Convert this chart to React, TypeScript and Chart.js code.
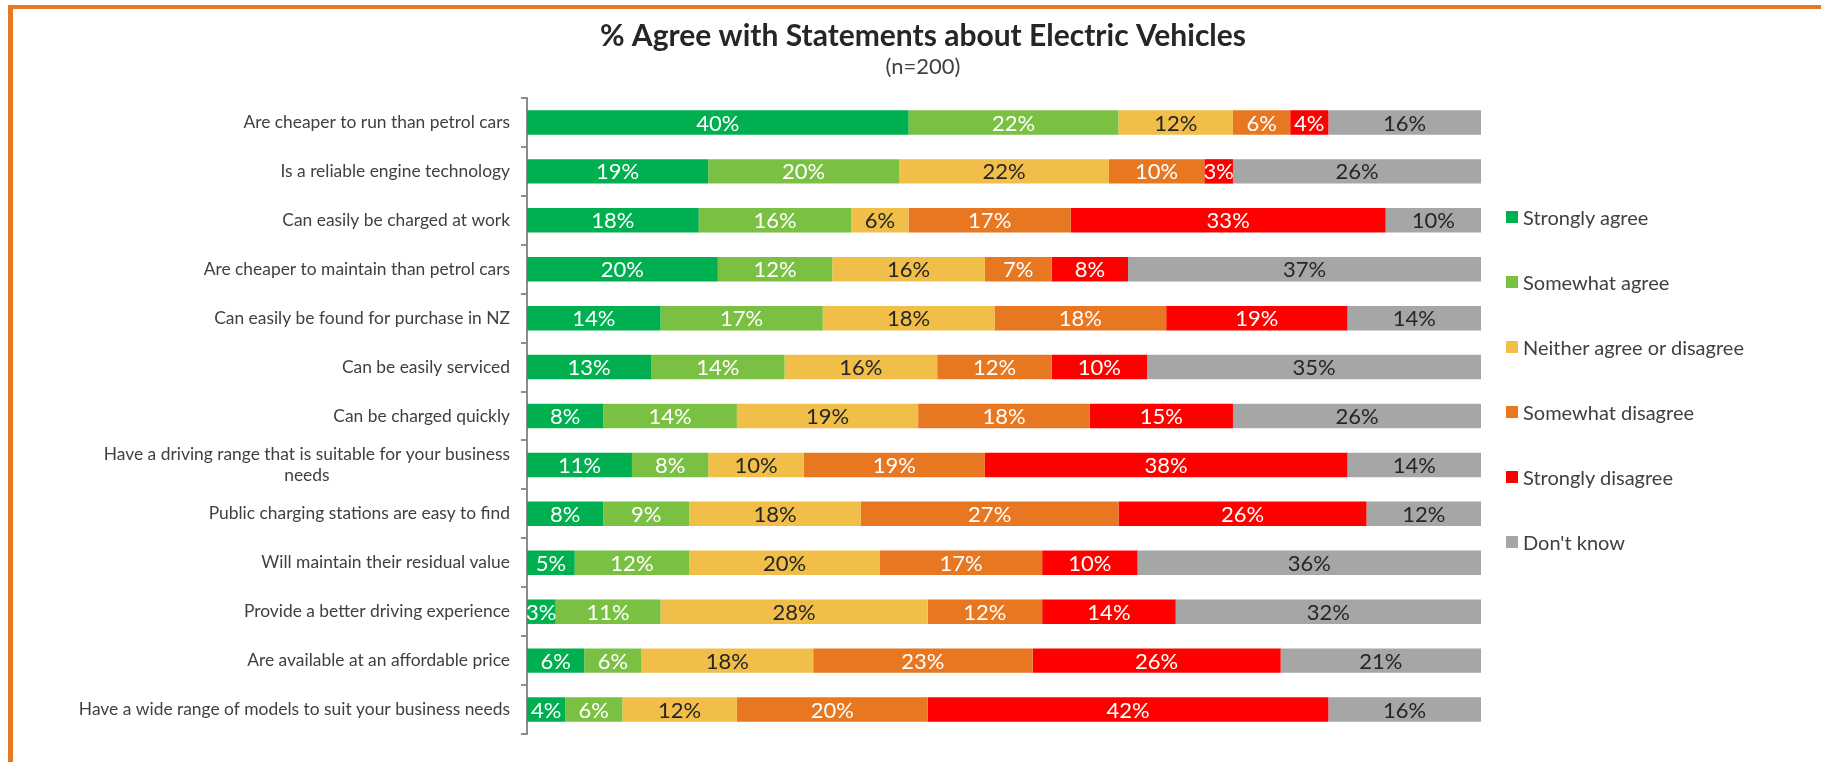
import React, { useEffect, useRef } from 'react';
import { Chart, registerables } from 'chart.js';

Chart.register(...registerables);

const categories: (string | string[])[] = [
  'Are cheaper to run than petrol cars',
  'Is a reliable engine technology',
  'Can easily be charged at work',
  'Are cheaper to maintain than petrol cars',
  'Can easily be found for purchase in NZ',
  'Can be easily serviced',
  'Can be charged quickly',
  ['Have a driving range that is suitable for your business', 'needs'],
  'Public charging stations are easy to find',
  'Will maintain their residual value',
  'Provide a better driving experience',
  'Are available at an affordable price',
  'Have a wide range of models to suit your business needs',
];

const seriesNames = [
  'Strongly agree',
  'Somewhat agree',
  'Neither agree or disagree',
  'Somewhat disagree',
  'Strongly disagree',
  "Don't know",
];

const stronglyAgree = [40, 19, 18, 20, 14, 13, 8, 11, 8, 5, 3, 6, 4];
const somewhatAgree = [22, 20, 16, 12, 17, 14, 14, 8, 9, 12, 11, 6, 6];
const neitherAgree = [12, 22, 6, 16, 18, 16, 19, 10, 18, 20, 28, 18, 12];
const somewhatDisagree = [6, 10, 17, 7, 18, 12, 18, 19, 27, 17, 12, 23, 20];
const stronglyDisagree = [4, 3, 33, 8, 19, 10, 15, 38, 26, 10, 14, 26, 42];
const dontKnow = [16, 26, 10, 37, 14, 35, 26, 14, 12, 36, 32, 21, 16];

const seriesValues = [stronglyAgree, somewhatAgree, neitherAgree, somewhatDisagree, stronglyDisagree, dontKnow];
const seriesColors = ['#00B050', '#7AC143', '#F1BE4A', '#E87722', '#FF0000', '#A6A6A6'];
const labelColors = ['#FFFFFF', '#FFFFFF', '#262626', '#FFFFFF', '#FFFFFF', '#262626'];

const FONT = 'Lato, "Open Sans", sans-serif';

const categoryLabelPlugin = {
  id: 'categoryLabels',
  afterDraw(chart: any) {
    const s = chart.scales.y;
    const ctx = chart.ctx;
    ctx.save();
    ctx.font = `17.4px ${FONT}`;
    ctx.fillStyle = '#404040';
    ctx.textBaseline = 'middle';
    const right = s.right - 6 - 11;
    categories.forEach((lab, i) => {
      const y = s.getPixelForValue(i);
      const lines = Array.isArray(lab) ? lab : [lab];
      const widths = lines.map((l) => ctx.measureText(l).width);
      const maxW = Math.max(...widths);
      const lh = 21;
      lines.forEach((l, j) => {
        const ly = y + (j - (lines.length - 1) / 2) * lh;
        if (lines.length === 1) {
          ctx.textAlign = 'right';
          ctx.fillText(l, right, ly);
        } else {
          ctx.textAlign = 'center';
          ctx.fillText(l, right - maxW / 2, ly);
        }
      });
    });
    ctx.restore();
  },
};

const valueLabelPlugin = {
  id: 'valueLabels',
  afterDatasetsDraw(chart: any) {
    const ctx = chart.ctx;
    ctx.save();
    ctx.font = `22px ${FONT}`;
    ctx.textAlign = 'center';
    ctx.textBaseline = 'middle';
    chart.data.datasets.forEach((ds: any, di: number) => {
      const meta = chart.getDatasetMeta(di);
      meta.data.forEach((bar: any, i: number) => {
        const v = ds.data[i];
        const p = bar.getProps(['x', 'y', 'base'], true);
        ctx.fillStyle = labelColors[di];
        ctx.fillText(`${v}%`, (p.x + p.base) / 2, p.y + 1);
      });
    });
    ctx.restore();
  },
};

export default function App() {
  const canvasRef = useRef<HTMLCanvasElement | null>(null);

  useEffect(() => {
    document.body.style.overflow = 'hidden';
    const canvas = canvasRef.current;
    if (!canvas) return;
    const chart = new Chart(canvas, {
      type: 'bar',
      data: {
        labels: categories as any,
        datasets: seriesNames.map((name, i) => ({
          label: name,
          data: seriesValues[i],
          backgroundColor: seriesColors[i],
          borderWidth: 0,
          barPercentage: 0.5,
          categoryPercentage: 1,
        })),
      },
      options: {
        indexAxis: 'y',
        responsive: false,
        animation: false,
        events: [],
        layout: { padding: { left: 0, right: 0, top: 0, bottom: 65 }, autoPadding: false },
        plugins: {
          legend: { display: false },
          tooltip: { enabled: false },
          title: {
            display: true,
            text: '% Agree with Statements about Electric Vehicles',
            font: { family: FONT, size: 30, weight: 'bold' },
            color: '#262626',
            padding: { top: 9, bottom: 0 },
          },
          subtitle: {
            display: true,
            text: '(n=200)',
            font: { family: FONT, size: 22 },
            color: '#404040',
            padding: { top: 0, bottom: 17.6 },
          },
        },
        scales: {
          x: { stacked: true, min: 0, max: 100, display: false },
          y: {
            stacked: true,
            offset: true,
            grid: {
              offset: true,
              drawOnChartArea: false,
              drawTicks: true,
              tickLength: 6,
              color: '#8C8C8C',
              lineWidth: 2,
            },
            border: { display: true, color: '#8C8C8C', width: 2 },
            ticks: { display: false },
            afterFit: (s: any) => {
              s.width = 514;
            },
          },
          yRight: {
            type: 'category',
            position: 'right',
            display: true,
            grid: { display: false, drawTicks: false },
            border: { display: false },
            ticks: { display: false },
            afterFit: (s: any) => {
              s.width = 352;
            },
          },
        } as any,
      },
      plugins: [categoryLabelPlugin, valueLabelPlugin],
    });
    return () => chart.destroy();
  }, []);

  return (
    <div
      style={{
        position: 'fixed',
        left: 8,
        top: 5,
        width: 1820,
        height: 790,
        borderTop: '4px solid #E87722',
        borderLeft: '5px solid #E87722',
        background: '#FFFFFF',
      }}
    >
      <canvas ref={canvasRef} width={1820} height={790} style={{ display: 'block' }} />
      <div
        style={{
          position: 'absolute',
          left: 1493,
          top: 175,
          display: 'flex',
          flexDirection: 'column',
          fontFamily: FONT,
          fontSize: 20,
          color: '#404040',
        }}
      >
        {seriesNames.map((name, i) => (
          <div key={name} style={{ height: 65, display: 'flex', alignItems: 'center', whiteSpace: 'nowrap' }}>
            <span style={{ width: 12, height: 12, background: seriesColors[i], marginRight: 5, display: 'inline-block' }} />
            <span>{name}</span>
          </div>
        ))}
      </div>
    </div>
  );
}
